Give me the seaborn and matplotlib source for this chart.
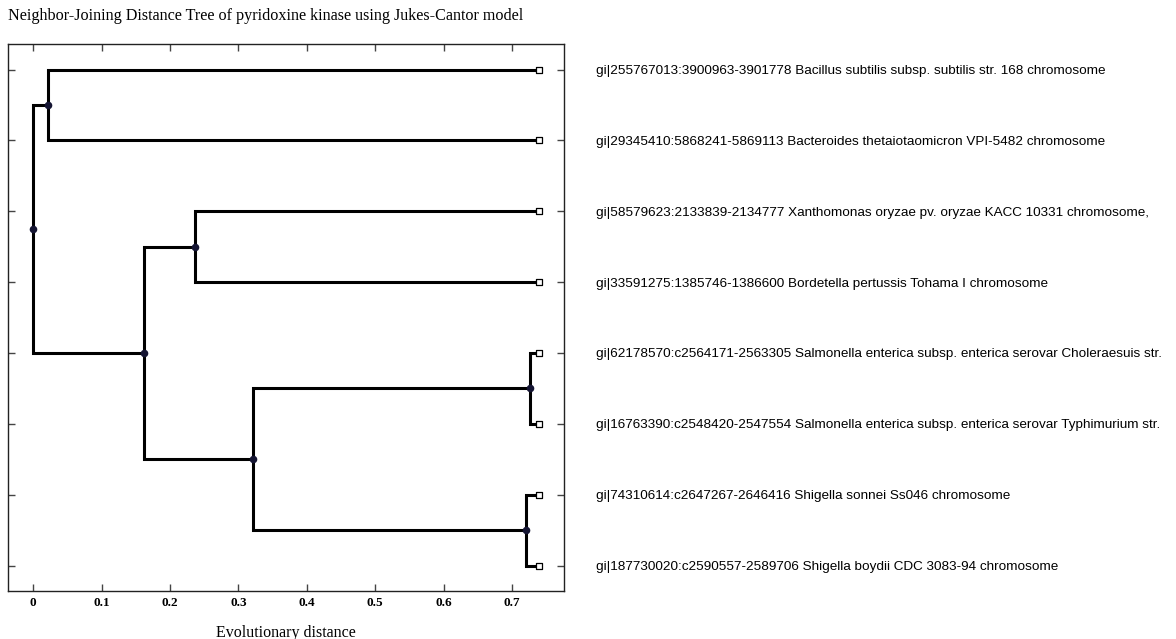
import pandas as pd
import matplotlib.pyplot as plt
import seaborn as sns

# leaves of the tree, top to bottom
leaf_names = [
    'gi|255767013:3900963-3901778 Bacillus subtilis subsp. subtilis str. 168 chromosome',
    'gi|29345410:5868241-5869113 Bacteroides thetaiotaomicron VPI-5482 chromosome',
    'gi|58579623:2133839-2134777 Xanthomonas oryzae pv. oryzae KACC 10331 chromosome,',
    'gi|33591275:1385746-1386600 Bordetella pertussis Tohama I chromosome',
    'gi|62178570:c2564171-2563305 Salmonella enterica subsp. enterica serovar Choleraesuis str.',
    'gi|16763390:c2548420-2547554 Salmonella enterica subsp. enterica serovar Typhimurium str.',
    'gi|74310614:c2647267-2646416 Shigella sonnei Ss046 chromosome',
    'gi|187730020:c2590557-2589706 Shigella boydii CDC 3083-94 chromosome',
]
leaf_dist = [0.740, 0.740, 0.740, 0.740, 0.739, 0.739, 0.739, 0.739]

# internal nodes: distance from root and two children (leaf index or node name)
node_names = ['root', 'n1', 'n2', 'n3', 'n4', 'n5', 'n6']
node_dist = [0.0, 0.022, 0.162, 0.236, 0.322, 0.726, 0.720]
node_kids = [('n1', 'n2'), (0, 1), ('n3', 'n4'), (2, 3), ('n5', 'n6'), (4, 5), (6, 7)]

xticks = [0, 0.1, 0.2, 0.3, 0.4, 0.5, 0.6, 0.7]
xtick_labels = ['0', '0.1', '0.2', '0.3', '0.4', '0.5', '0.6', '0.7']

# positions
pos = {}
for i, d in enumerate(leaf_dist):
    pos[i] = (d, i + 1)
node_dx = dict(zip(node_names, node_dist))
kids = dict(zip(node_names, node_kids))


def place(n):
    if n in pos:
        return pos[n]
    ys = [place(k)[1] for k in kids[n]]
    pos[n] = (node_dx[n], sum(ys) / len(ys))
    return pos[n]


place('root')

rows = []
seg = 0
for n in node_names:
    px, py = pos[n]
    for k in kids[n]:
        cx, cy = pos[k]
        rows += [(seg, px, py), (seg, px, cy), (seg, cx, cy)]
        seg += 1
segs = pd.DataFrame(rows, columns=['seg', 'x', 'y'])
nodes = pd.DataFrame([pos[n] for n in node_names], columns=['x', 'y'])
leaves = pd.DataFrame([pos[i] for i in range(len(leaf_names))], columns=['x', 'y'])

sns.set_style('ticks', {'text.color': 'black', 'xtick.color': 'black',
                        'ytick.color': 'black', 'axes.labelcolor': 'black'})
fig = plt.figure(figsize=(11.76, 6.39), dpi=100)
ax = fig.add_axes([0.0064, 0.0751, 0.4732, 0.856])

sns.lineplot(data=segs, x='x', y='y', units='seg', estimator=None, sort=False,
             color='black', linewidth=2.2, ax=ax, legend=False)
for line in ax.lines:
    line.set_solid_joinstyle('miter')
sns.scatterplot(data=nodes, x='x', y='y', color='#141432', s=30, linewidth=0,
                ax=ax, zorder=3)
sns.scatterplot(data=leaves, x='x', y='y', marker='s', facecolor='white',
                edgecolor='black', s=18, linewidth=0.9, ax=ax, zorder=3)

ax.set_xlim(-0.0375, 0.776)
ax.set_ylim(8.36, 0.64)
ax.set_xticks(xticks)
ax.set_xticklabels(xtick_labels, fontfamily='Liberation Serif', fontweight='bold', fontsize=9.5)
ax.set_yticks(range(1, len(leaf_names) + 1))
ax.set_yticklabels(leaf_names, fontfamily='Liberation Sans', fontsize=9.7)
ax.tick_params(axis='both', direction='in', length=5, width=1, color='#444444',
               labelcolor='black', top=True, right=True)
ax.tick_params(axis='y', labelleft=False, labelright=True, pad=23)
ax.tick_params(axis='x', pad=4)
for s in ax.spines.values():
    s.set_color('#222222')
    s.set_linewidth(1)
ax.set_xlabel('Evolutionary distance', fontfamily='Liberation Serif', fontsize=11.5,
              labelpad=12, color='black')
ax.set_ylabel('')

fig.text(8 / 1176, 1 - 16 / 639, 'Neighbor-Joining Distance Tree of pyridoxine kinase using Jukes-Cantor model',
         fontfamily='Liberation Serif', fontsize=11.6, va='center', ha='left', color='black')

fig.savefig('out.png', dpi=100)
